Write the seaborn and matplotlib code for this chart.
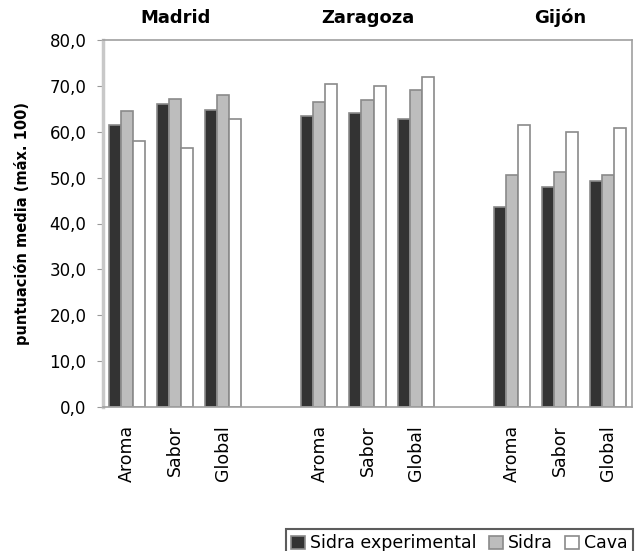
import pandas as pd
import matplotlib
matplotlib.use("Agg")
import matplotlib.pyplot as plt
import seaborn as sns

# data
ciudades = ["Madrid", "Zaragoza", "Gijón"]
atributos = ["Aroma", "Sabor", "Global"]
series = ["Sidra experimental", "Sidra", "Cava"]

sidra_exp = [61.5, 66.0, 64.8, 63.5, 64.0, 62.8, 43.5, 48.0, 49.3]
sidra = [64.5, 67.2, 68.0, 66.5, 67.0, 69.0, 50.5, 51.2, 50.5]
cava = [58.0, 56.5, 62.8, 70.5, 70.0, 72.0, 61.5, 60.0, 60.8]

# long table, one row per bar
rows = []
for i, c in enumerate(ciudades):
    for j, a in enumerate(atributos):
        k = i * 3 + j
        for s, vals in zip(series, [sidra_exp, sidra, cava]):
            rows.append({"cat": c + "-" + a, "serie": s, "valor": vals[k]})
data = pd.DataFrame(rows)

# category order with an empty slot between cities
orden = []
etiquetas = []
for i, c in enumerate(ciudades):
    for a in atributos:
        orden.append(c + "-" + a)
        etiquetas.append(a)
    if i < len(ciudades) - 1:
        orden.append("gap%d" % i)
        etiquetas.append("")

sns.set_style("white")
plt.rcParams["font.family"] = ["DejaVu Sans"]
plt.rcParams["text.color"] = "black"
plt.rcParams["xtick.color"] = "black"
plt.rcParams["ytick.color"] = "black"
plt.rcParams["axes.labelcolor"] = "black"

fig = plt.figure(figsize=(6.35, 5.51), dpi=100)
ax = fig.add_axes([103 / 635, 1 - 407 / 551, 529 / 635, 367 / 551])

colores = ["#333333", "#bdbdbd", "#ffffff"]
sns.barplot(data=data, x="cat", y="valor", hue="serie", order=orden,
            hue_order=series, palette=colores, width=0.75,
            edgecolor="#8a8a8a", linewidth=1.2, saturation=1, ax=ax)

ax.set_xlim(-0.5, len(orden) - 0.5)
ax.set_ylim(0, 80)
ax.set_yticks(range(0, 81, 10))
ax.set_yticklabels(["%d,0" % v for v in range(0, 81, 10)], fontsize=12)
ax.set_xticks(range(len(orden)))
ax.set_xticklabels(etiquetas, rotation=90, fontsize=12.5)
ax.tick_params(axis="x", length=0, pad=13)
ax.set_xticks([x - 0.5 for x in range(1, len(orden))], minor=True)
ax.tick_params(axis="x", which="minor", length=4, color="#999999", direction="out")
ax.tick_params(axis="y", length=4, color="#999999", direction="out", left=True, pad=8,
               labelcolor="black")

ax.set_xlabel("")
ax.set_ylabel("puntuación media (máx. 100)", fontsize=10.5, fontweight="bold", labelpad=14)

for sp in ax.spines.values():
    sp.set_color("#a0a0a0")
    sp.set_linewidth(1.2)
ax.spines["left"].set_linewidth(2.5)
ax.spines["left"].set_color("#c8c8c8")

# city titles over the groups
for i, c in enumerate(ciudades):
    ax.text(i * 4 + 1, 1.035, c, transform=ax.get_xaxis_transform(),
            ha="center", va="bottom", fontsize=13, fontweight="bold", color="black")

ax.get_legend().remove()
handles, labels = ax.get_legend_handles_labels()
leg = fig.legend(handles, labels, loc="lower right", bbox_to_anchor=(633 / 635, -0.012),
                 ncol=3, fontsize=12.5, frameon=True, fancybox=False, edgecolor="#333333",
                 handlelength=0.8, handleheight=0.8, handletextpad=0.3, columnspacing=0.7,
                 borderpad=0.3, borderaxespad=0)
leg.get_frame().set_linewidth(1.5)

fig.savefig("out.png", dpi=100)
